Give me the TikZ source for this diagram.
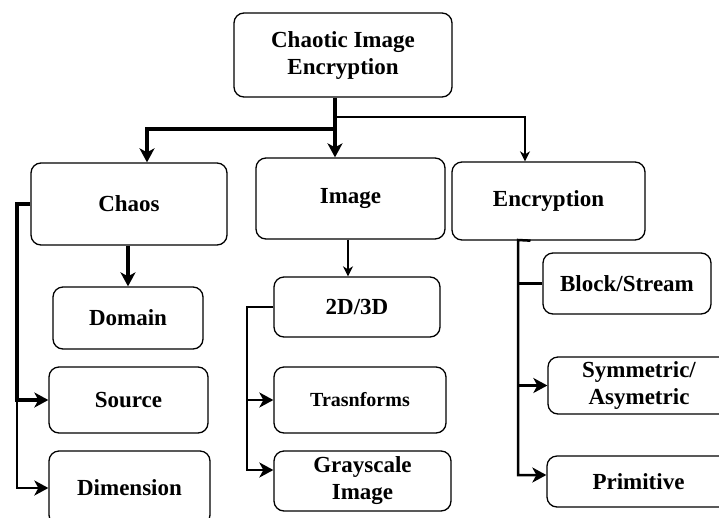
\documentclass[tikz,border=0pt]{standalone}
\usepackage{fontspec}
\setmainfont{Liberation Serif}
\usetikzlibrary{arrows.meta,positioning,calc}

\tikzset{
  box/.style={draw, rounded corners=10pt, line width=1.3pt, align=center,
    inner sep=0pt, font=\bfseries\fontsize{23}{27}\selectfont},
  thickln/.style={line width=3.5pt},
  medln/.style={line width=2.5pt},
  thinln/.style={line width=1.6pt},
  arrowed/.style={-{Stealth[length=14pt,width=15pt,inset=4pt]}},
  smallarrowed/.style={-{Stealth[length=10pt,width=10pt,inset=3pt]}},
}

\begin{document}
\begin{tikzpicture}[x=1pt,y=-1pt]
    \useasboundingbox (0,0) rectangle (719,517);

    % Boxes
    \node[box, minimum width=218pt, minimum height=84pt] (root) at (343,55) {Chaotic Image\\Encryption};
    \node[box, minimum width=196pt, minimum height=82pt] (chaos) at (129,204) {Chaos};
    \node[box, minimum width=189pt, minimum height=81pt] (image) at (350.5,198.5) {Image};
    \node[box, minimum width=193pt, minimum height=78pt] (enc) at (548.5,201) {Encryption};

    \node[box, minimum width=150pt, minimum height=62pt] (domain) at (128,318) {Domain};
    \node[box, minimum width=159pt, minimum height=66pt] (source) at (128.5,400) {Source};
    \node[box, minimum width=161pt, minimum height=74pt] (dimension) at (129.5,488) {Dimension};

    \node[box, minimum width=166pt, minimum height=60pt] (twod) at (357,307) {2D/3D};
    \node[box, minimum width=172pt, minimum height=66pt, font=\bfseries\fontsize{20}{24}\selectfont] (trans) at (360,400) {Trasnforms};
    \node[box, minimum width=177pt, minimum height=60pt] (gray) at (362.5,481) {Grayscale\\Image};

    \node[box, minimum width=168pt, minimum height=61pt] (block) at (627,283.5) {Block/Stream};
    \node[box, minimum width=182pt, minimum height=57pt] (sym) at (639,385.5) {Symmetric/\\Asymetric};
    \node[box, minimum width=183pt, minimum height=51pt] (prim) at (638.5,481.5) {Primitive};

    % Trunk from the root
    \coordinate (split) at (335,129);
    \coordinate (splitthin) at (335,117);
    \draw[thickln] (root.south -| split) -- (split);
    \draw[thickln, arrowed] (split) -| ([xshift=18pt]chaos.north);
    \draw[thickln, arrowed] (split) -- (split |- image.north);
    \draw[thinln, smallarrowed] (splitthin) -| ([xshift=-23.5pt]enc.north);

    % Chaos branches
    \coordinate (chaosbus) at (17,204);
    \draw[thickln, arrowed] (chaos.south -| domain.north) -- (domain.north);
    \draw[thickln, arrowed] (chaos.west) -- (chaosbus) |- (source.west);
    \draw[medln, arrowed] (chaosbus |- source.west) |- (dimension.west);

    % Image branches
    \coordinate (imgbus) at (247,307);
    \draw[thinln, smallarrowed] (image.south -| 348,0) -- ([xshift=-9pt]twod.north);
    \draw[medln, arrowed] (twod.west) -- (imgbus) |- ([yshift=11pt]gray.west);
    \draw[medln, arrowed] (imgbus |- trans.west) -- (trans.west);

    % Encryption branches
    \coordinate (encbus) at (518,240);
    \draw[medln, arrowed] ([xshift=-18pt]enc.south) -- (encbus) |- ([yshift=6.5pt]prim.west);
    \draw[medln] (encbus |- block.west) -- (block.west);
    \draw[medln, arrowed] (encbus |- sym.west) -- (sym.west);
\end{tikzpicture}
\end{document}
